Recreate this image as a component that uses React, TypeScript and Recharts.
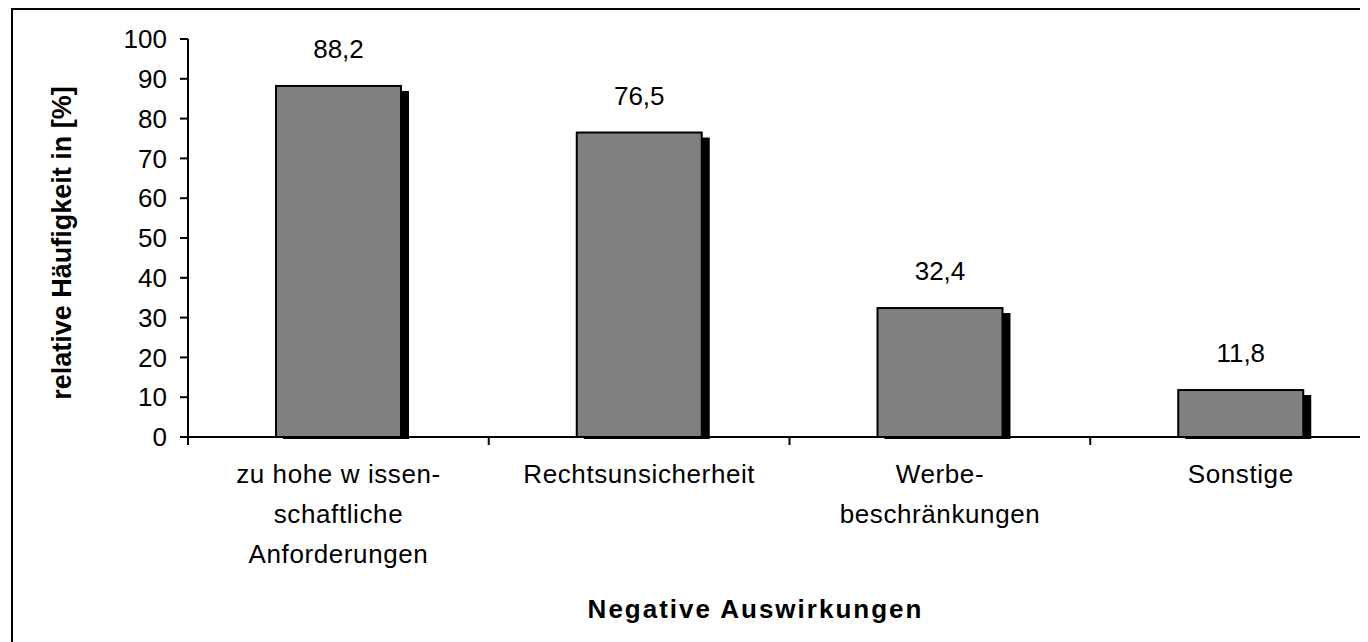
import React from "react";
import { Bar, BarChart, LabelList, Label, XAxis, YAxis } from "recharts";

const categories = [
  "zu hohe wissenschaftliche Anforderungen",
  "Rechtsunsicherheit",
  "Werbebeschränkungen",
  "Sonstige"
];
const tickLines = [
  ["zu hohe w issen-", "schaftliche", "Anforderungen"],
  ["Rechtsunsicherheit"],
  ["Werbe-", "beschränkungen"],
  ["Sonstige"]
];
const shares = [88.2, 76.5, 32.4, 11.8];
const yTicks = [0, 10, 20, 30, 40, 50, 60, 70, 80, 90, 100];
const edgeTicks = [0, 1, 2, 3, 4];

// each category sits in the middle of its slot on a 0..4 axis, so the axis ticks mark the slot edges
const data = categories.map((name, i) => ({ name, pos: i + 0.5, value: shares[i] }));

const font = "'Liberation Sans', Arial, sans-serif";

function ShadowBar(props: any) {
  const { x, y, width, height } = props;
  if (!height || height <= 0) return null;
  return (
    <g>
      <rect x={x + 7} y={y + 5} width={width + 1} height={height - 3} fill="#000" />
      <rect x={x} y={y} width={width} height={height} fill="#808080" stroke="#000" strokeWidth={2} />
    </g>
  );
}

function CategoryLabel(props: any) {
  const vb = props.viewBox || props;
  const { index } = props;
  const cx = vb.x + vb.width / 2;
  const base = vb.y + vb.height;
  const lines = tickLines[index] || [];
  return (
    <g>
      {lines.map((line, i) => (
        <text
          key={i}
          x={cx}
          y={base + 46 + i * 40}
          textAnchor="middle"
          fill="#000"
          fontSize={26}
          fontFamily={font}
          letterSpacing={0.6}
        >
          {line}
        </text>
      ))}
    </g>
  );
}

function EmptyTick() {
  return <g />;
}

function AxisTitle(props: any) {
  const { viewBox } = props;
  if (!viewBox) return null;
  return (
    <text
      x={viewBox.x + viewBox.width / 2 - 34}
      y={viewBox.y + 181}
      textAnchor="middle"
      fontSize={26}
      fontWeight="bold"
      fontFamily={font}
      letterSpacing={2}
      fill="#000"
    >
      Negative Auswirkungen
    </text>
  );
}

function YTitle(props: any) {
  const { viewBox } = props;
  if (!viewBox) return null;
  const cx = viewBox.x + 53;
  const cy = viewBox.y + viewBox.height / 2 + 5;
  return (
    <text
      x={cx}
      y={cy}
      transform={`rotate(-90, ${cx}, ${cy})`}
      textAnchor="middle"
      dy="0.36em"
      fontSize={27}
      fontWeight="bold"
      fontFamily={font}
      fill="#000"
    >
      relative Häufigkeit in [%]
    </text>
  );
}

export default function App() {
  return (
    <div style={{ position: "relative", width: 1360, height: 634, overflow: "hidden", background: "#fff" }}>
      <div
        style={{
          position: "absolute",
          left: 3,
          top: 0,
          width: 3000,
          height: 3000,
          border: "2px solid #000"
        }}
      />
      <div style={{ position: "absolute", left: 0, top: 0 }}>
        <BarChart
          width={1400}
          height={634}
          data={data}
          margin={{ top: 31, right: 17, bottom: 0, left: 0 }}
        >
          <XAxis
            dataKey="pos"
            type="number"
            domain={[0, 4]}
            ticks={edgeTicks}
            allowDataOverflow
            height={205}
            axisLine={{ stroke: "#000", strokeWidth: 2 }}
            tickLine={{ stroke: "#000", strokeWidth: 2 }}
            tickSize={8}
            interval={0}
            tick={<EmptyTick />}
          >
            <Label content={<AxisTitle />} />
          </XAxis>
          <YAxis
            domain={[0, 100]}
            ticks={yTicks}
            width={180}
            axisLine={{ stroke: "#000", strokeWidth: 2 }}
            tickLine={{ stroke: "#000", strokeWidth: 2 }}
            tickSize={8}
            tickMargin={13}
            tick={{ fill: "#000", fontSize: 26, fontFamily: font }}
            interval={0}
          >
            <Label content={<YTitle />} />
          </YAxis>
          <Bar dataKey="value" barSize={125} shape={<ShadowBar />} isAnimationActive={false}>
            <LabelList
              dataKey="value"
              position="top"
              offset={28}
              formatter={(v: any) => Number(v).toFixed(1).replace(".", ",")}
              style={{ fill: "#000", fontSize: 26, fontFamily: font }}
            />
            <LabelList dataKey="name" content={<CategoryLabel />} />
          </Bar>
        </BarChart>
      </div>
    </div>
  );
}
